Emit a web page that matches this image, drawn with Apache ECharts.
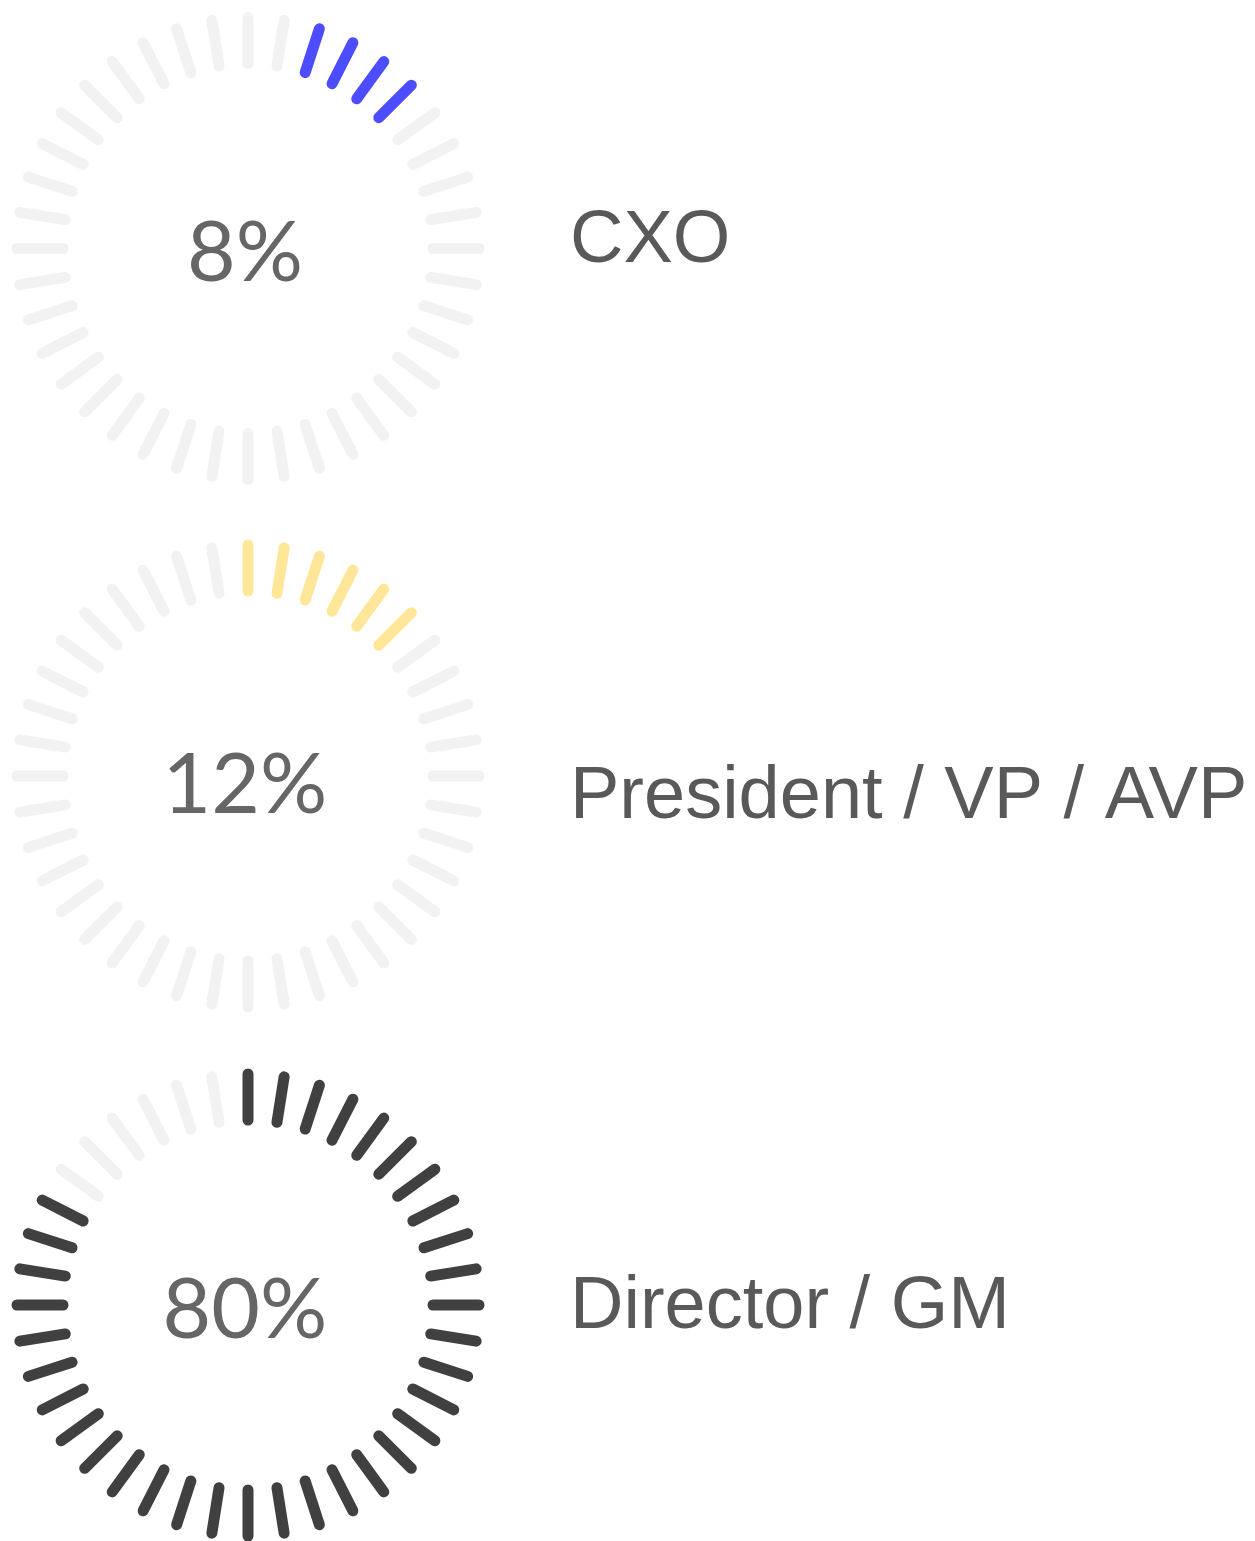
<!DOCTYPE html>
<html>
<head>
<meta charset="utf-8">
<title>Seniority</title>
<script src="https://cdn.jsdelivr.net/npm/echarts@6/dist/echarts.min.js"></script>
<style>
  html, body { margin: 0; padding: 0; background: #ffffff; }
  #chart { width: 1255px; height: 1541px; }
</style>
</head>
<body>
<div id="chart"></div>
<script>
// data
const categories = ['CXO', 'President / VP / AVP', 'Director / GM']
const values = [8, 12, 80]
// ticks that are coloured, counted clockwise from the top (40 ticks per ring)
const litFrom = [2, 0, 0]
const litTo = [5, 5, 33]
const litColors = ['#4d4dff', '#ffe699', '#404040']

const TICKS = 40
const GREY = '#f2f2f2'

// layout
const centers = [[248, 248.5], [248, 776], [248, 1305]]
const labelY = [242, 798, 1308]
const pctOffset = [5, 10, 6]

let chart = echarts.init(document.getElementById('chart'))

// colour stops for the axis, splitLine 'auto' picks them up
function stops(i) {
  let n = TICKS - 1
  let list = []
  if (litFrom[i] > 0) list.push([(litFrom[i] - 0.5) / n, GREY])
  list.push([(litTo[i] + 0.5) / n, litColors[i]])
  list.push([1, GREY])
  return list
}

let series = []
categories.forEach((name, i) => {
  series.push({
    type: 'gauge',
    name: name,
    center: centers[i],
    radius: 232,
    startAngle: 90,
    endAngle: 90 - 360 + 360 / TICKS, // last tick sits 9deg before the top
    min: 0,
    max: 100,
    splitNumber: TICKS - 1,
    axisLine: {
      show: false,
      lineStyle: { width: 1, color: stops(i) }
    },
    splitLine: {
      show: true,
      distance: 0,
      length: 46,
      lineStyle: { width: 11, cap: 'round', color: 'auto' }
    },
    axisTick: { show: false },
    axisLabel: { show: false },
    pointer: { show: false },
    anchor: { show: false },
    title: { show: false },
    detail: {
      offsetCenter: [-3, pctOffset[i]],
      formatter: '{value}%',
      fontFamily: 'Lato',
      fontSize: 84,
      fontWeight: 'normal',
      color: '#666666'
    },
    data: [{ value: values[i], name: name }]
  })
})

let labels = categories.map((name, i) => ({
  type: 'text',
  x: 570,
  y: labelY[i],
  style: {
    text: name,
    font: '74px "Liberation Sans"',
    fill: '#595959',
    verticalAlign: 'middle'
  }
}))

chart.setOption({
  backgroundColor: '#ffffff',
  animation: false,
  series: series,
  graphic: labels
})
</script>
</body>
</html>
